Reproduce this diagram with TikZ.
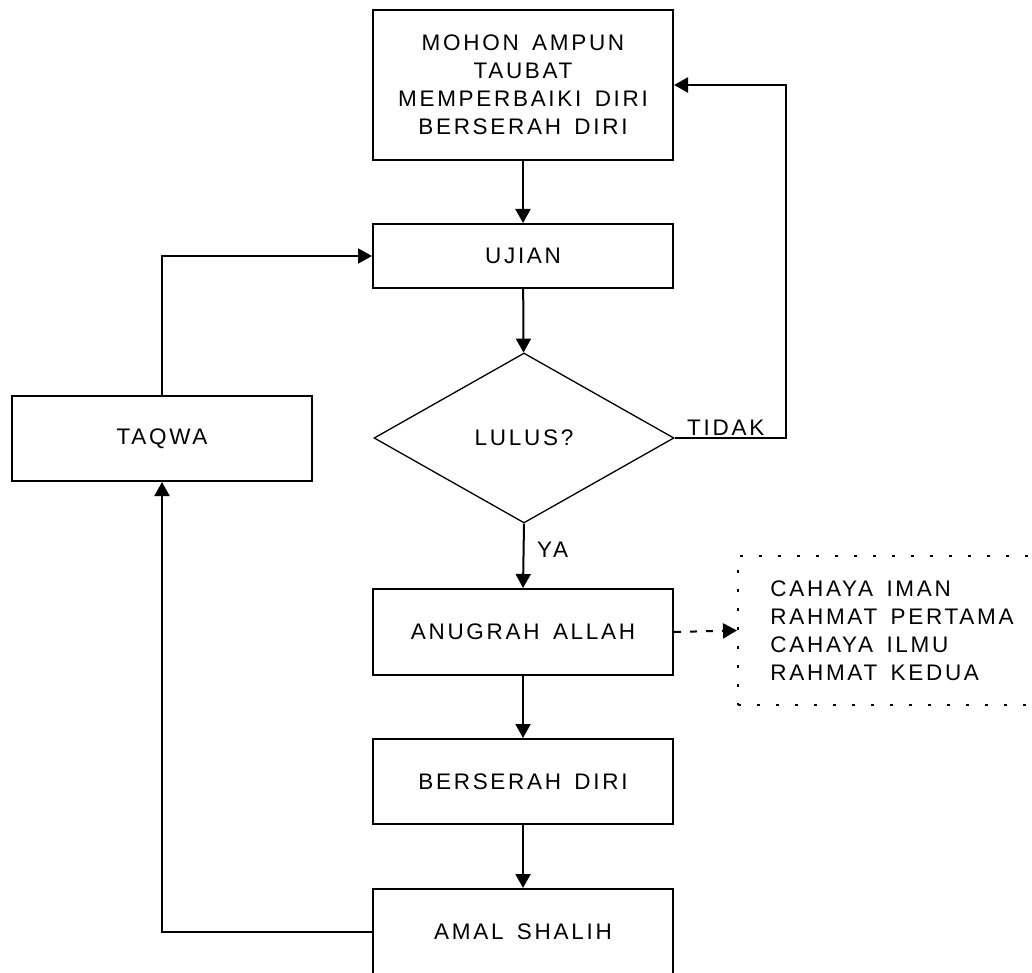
\documentclass[tikz,border=0pt]{standalone}
\usepackage{fontspec}
\setmainfont{Liberation Sans}[LetterSpace=12,WordSpace=1.5]
\usetikzlibrary{shapes.geometric,arrows.meta}
\begin{document}
\begin{tikzpicture}[x=1pt,y=-1pt,
  font=\fontsize{22.5}{28}\selectfont,
  box/.style={draw,line width=2pt,minimum width=300pt,inner sep=0pt,align=center},
  decision/.style={draw,diamond,line width=1.3pt,minimum width=300pt,minimum height=170pt,inner sep=0pt},
  arr/.style={line width=2pt,-{Triangle[length=14pt,width=15pt]}},
  dotbox/.style={draw,line width=2pt,dash pattern=on 3pt off 16pt,minimum height=149pt,minimum width=308pt,inner sep=0pt,align=left},
  darr/.style={line width=2pt,dash pattern=on 7pt off 9pt,-{Triangle[length=14pt,width=15pt]}},
  lbl/.style={inner sep=0pt}]
\useasboundingbox (0,0) rectangle (1032,973);
\node[box,minimum height=150pt] (top) at (523,85) {MOHON AMPUN\\TAUBAT\\MEMPERBAIKI DIRI\\BERSERAH DIRI};
\node[box,minimum height=64pt] (ujian) at (523,256) {UJIAN};
\node[decision] (lulus) at (524,438) {LULUS?};
\node[box,minimum height=86pt] (anugrah) at (523,632) {ANUGRAH ALLAH};
\node[box,minimum height=85pt] (berserah) at (523,781.5) {BERSERAH DIRI};
\node[box,minimum height=85pt] (amal) at (523,931.5) {AMAL SHALIH};
\node[box,minimum height=85pt] (taqwa) at (162,438.5) {TAQWA};
\node[dotbox,anchor=west] (info) at (737,630.5) {CAHAYA IMAN\\RAHMAT PERTAMA\\CAHAYA ILMU\\RAHMAT KEDUA};
\coordinate (tr) at (786,0);
\draw[arr] (top) -- (ujian);
\draw[arr] (ujian) -- (lulus);
\draw[arr] (lulus.south) -- (anugrah.north);
\draw[arr] (anugrah) -- (berserah);
\draw[arr] (berserah) -- (amal);
\draw[arr] (lulus.east) -- (lulus.east -| tr) |- (top.east);
\draw[arr] (amal.west) -| (taqwa.south);
\draw[arr] (taqwa.north) |- (ujian.west);
\draw[darr] (anugrah.east) -- (info.west);
\node[lbl,anchor=base west] (tidak) at (687,435) {TIDAK};
\node[lbl,anchor=base west] (ya) at (537,557) {YA};
\end{tikzpicture}
\end{document}
